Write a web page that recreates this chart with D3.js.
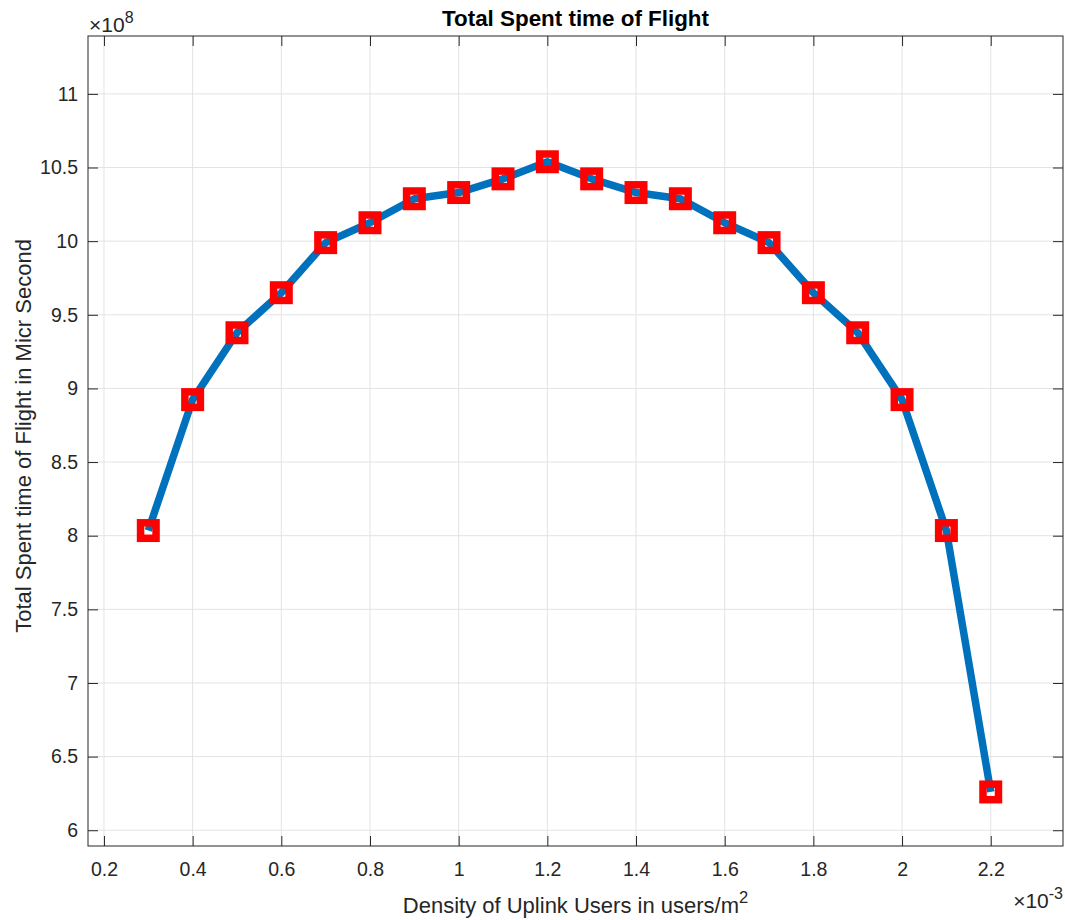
<!DOCTYPE html>
<html><head><meta charset="utf-8">
<script src="https://cdn.jsdelivr.net/npm/d3@7"></script>
<style>body{margin:0;background:#fff}svg{display:block}text{font-family:"Liberation Sans",Arial,Helvetica,sans-serif}</style>
</head><body>
<svg id="c" width="1065" height="920"></svg>
<script>
const density = [0.3,0.4,0.5,0.6,0.7,0.8,0.9,1.0,1.1,1.2,1.3,1.4,1.5,1.6,1.7,1.8,1.9,2.0,2.1,2.2];
const spentTime = [8.035,8.924,9.378,9.650,9.990,10.125,10.288,10.330,10.423,10.539,10.423,10.330,10.288,10.125,9.990,9.650,9.378,8.924,8.035,6.26];
const xTicks = [0.2,0.4,0.6,0.8,1.0,1.2,1.4,1.6,1.8,2.0,2.2];
const yTicks = [6,6.5,7,7.5,8,8.5,9,9.5,10,10.5,11];
const fmt = d => String(+d.toFixed(2));

const svg = d3.select("#c");
const L=88,R=1063,T=36,B=846;
const x = d3.scaleLinear().domain([0.164,2.363]).range([L,R]);
const y = d3.scaleLinear().domain([5.893,11.393]).range([B,T]);
const axisCol="#262626";

// grid
svg.append("g").selectAll("line").data(xTicks).join("line")
  .attr("x1",d=>x(d)).attr("x2",d=>x(d)).attr("y1",T).attr("y2",B)
  .attr("stroke","#e3e3e3").attr("stroke-width",1);
svg.append("g").selectAll("line").data(yTicks).join("line")
  .attr("y1",d=>y(d)).attr("y2",d=>y(d)).attr("x1",L).attr("x2",R)
  .attr("stroke","#e3e3e3").attr("stroke-width",1);

// axes
const tl=10;
const gx = svg.append("g").attr("transform",`translate(0,${B})`)
  .call(d3.axisBottom(x).tickValues(xTicks).tickFormat(fmt).tickSizeInner(-tl).tickSizeOuter(0).tickPadding(16));
const gxt = svg.append("g").attr("transform",`translate(0,${T})`)
  .call(d3.axisTop(x).tickValues(xTicks).tickFormat("").tickSizeInner(-tl).tickSizeOuter(0));
const gy = svg.append("g").attr("transform",`translate(${L},0)`)
  .call(d3.axisLeft(y).tickValues(yTicks).tickFormat(fmt).tickSizeInner(-tl).tickSizeOuter(0).tickPadding(10));
const gyr = svg.append("g").attr("transform",`translate(${R},0)`)
  .call(d3.axisRight(y).tickValues(yTicks).tickFormat("").tickSizeInner(-tl).tickSizeOuter(0));
[gx,gxt,gy,gyr].forEach(g=>{
  g.select(".domain").remove();
  g.selectAll(".tick line").attr("stroke",axisCol).attr("stroke-width",1);
  g.selectAll(".tick text").attr("fill",axisCol).attr("font-size","19.5px");
});
gx.selectAll(".tick text").attr("dy","0.71em");
svg.append("rect").attr("x",L).attr("y",T).attr("width",R-L).attr("height",B-T)
  .attr("fill","none").attr("stroke",axisCol).attr("stroke-width",1);

// line
svg.append("path").datum(density.map((d,i)=>[d,spentTime[i]]))
  .attr("d",d3.line().x(d=>x(d[0])).y(d=>y(d[1])))
  .attr("fill","none").attr("stroke","#0072BD").attr("stroke-width",7.5).attr("stroke-linejoin","round");

// markers
const ms=15.5;
svg.append("g").selectAll("rect").data(density).join("rect")
  .attr("x",(d)=>x(d)-ms/2).attr("y",(d,i)=>y(spentTime[i])-ms/2)
  .attr("width",ms).attr("height",ms)
  .attr("fill","none").attr("stroke","#ff0000").attr("stroke-width",7.5);

// title & labels
svg.append("text").attr("x",(L+R)/2).attr("y",26).attr("text-anchor","middle")
  .attr("font-size","22.4px").attr("font-weight","bold").attr("fill","#000").text("Total Spent time of Flight");
const xl = svg.append("text").attr("x",(L+R)/2).attr("y",913).attr("text-anchor","middle")
  .attr("font-size","22px").attr("fill",axisCol);
xl.append("tspan").text("Density of Uplink Users in users/m");
xl.append("tspan").attr("dy","-10").attr("font-size","16.5px").text("2");
svg.append("text").attr("transform",`translate(31,436) rotate(-90)`).attr("text-anchor","middle")
  .attr("font-size","22px").attr("fill",axisCol).text("Total Spent time of Flight in Micr Second");

// exponent labels
const e1 = svg.append("text").attr("x",89).attr("y",32).attr("font-size","21px").attr("fill",axisCol);
e1.append("tspan").text("×10");
e1.append("tspan").attr("dy","-9").attr("font-size","16px").text("8");
const e2 = svg.append("text").attr("x",1063).attr("y",908).attr("text-anchor","end").attr("font-size","21px").attr("fill",axisCol);
e2.append("tspan").text("×10");
e2.append("tspan").attr("dy","-9").attr("font-size","16px").text("-3");
</script>
</body></html>
